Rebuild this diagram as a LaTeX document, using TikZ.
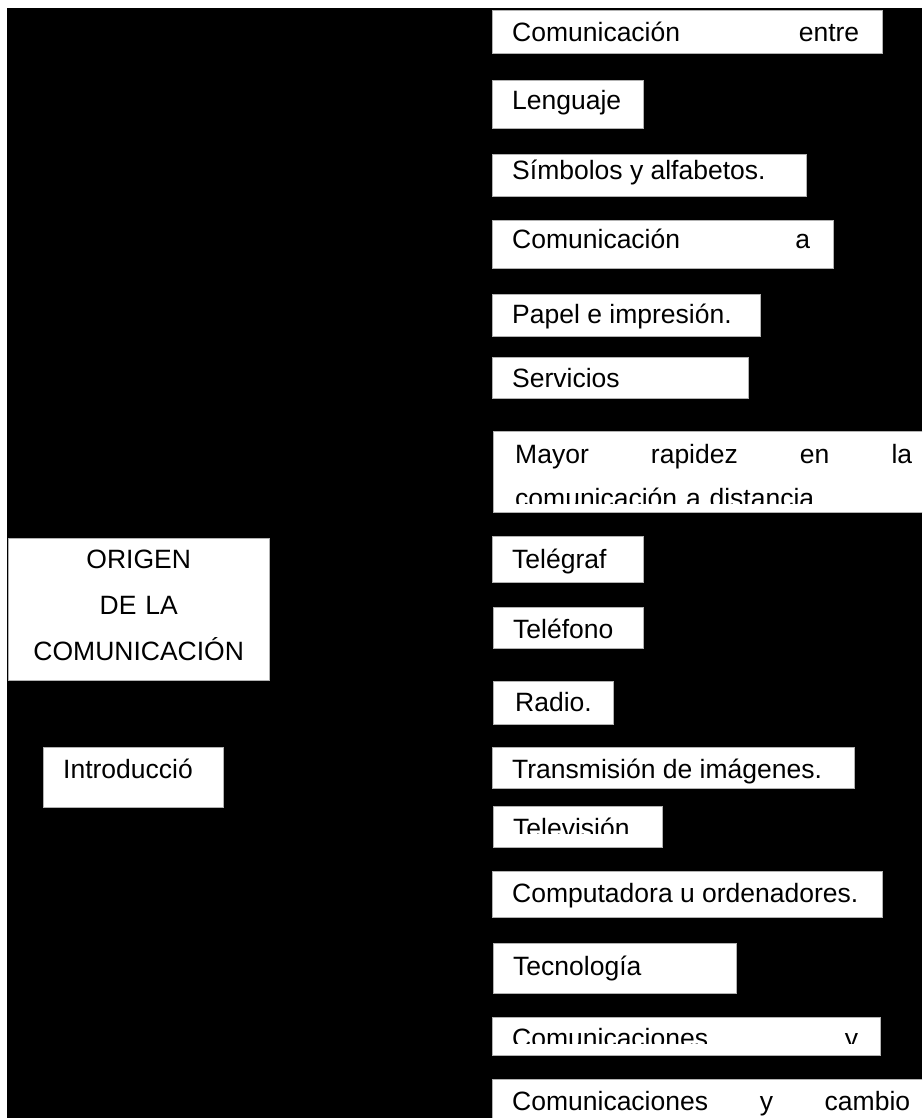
\documentclass[tikz,border=0pt]{standalone}
\usepackage{fontspec}
\setmainfont{Liberation Sans}

\begin{document}
\begin{tikzpicture}[x=1pt, y=-1pt,
    caja/.style={draw=gray!60, line width=1pt, fill=white, inner sep=0pt, anchor=north west},
    texto/.style={anchor=base west, inner sep=0pt, font=\fontsize{26.5}{44}\selectfont}]
    \clip (0,0) rectangle (922,1118);
    \fill[white] (0,0) rectangle (922,1118);
    \fill[black] (7,8) rectangle (922,1118);

    % columna derecha
    \node[caja, minimum width=390pt, minimum height=43pt] (entre) at (492,10) {};
    \node[texto, text width=347pt] (tentre) at (512,42) {Comunicación\hfill entre};
    \node[caja, minimum width=151pt, minimum height=48pt] (lenguaje) at (492,80) {};
    \node[texto] (tlenguaje) at (512,110) {Lenguaje};
    \node[caja, minimum width=314pt, minimum height=42pt] (simbolos) at (492,154) {};
    \node[texto] (tsimbolos) at (512,179) {Símbolos y alfabetos.};
    \node[caja, minimum width=341pt, minimum height=48pt] (distancia) at (492,220) {};
    \node[texto, text width=298pt] (tdistancia) at (512,248) {Comunicación\hfill a};
    \node[caja, minimum width=268pt, minimum height=42pt] (papel) at (492,294) {};
    \node[texto] (tpapel) at (512,323) {Papel e impresión.};
    \node[caja, minimum width=256pt, minimum height=41pt] (servicios) at (492,357) {};
    \node[texto] (tservicios) at (512,387) {Servicios};
    \node[caja, minimum width=440pt, minimum height=81pt] (rapidez) at (493,431) {};
    \begin{scope}
      \clip (493,431) rectangle (933,503);
      \node[texto, text width=397pt] (trapidez) at (515,463)
        {Mayor\hfill rapidez\hfill en\hfill la\\comunicación a distancia};
    \end{scope}
    \node[caja, minimum width=151pt, minimum height=46pt] (telegraf) at (492,536) {};
    \node[texto] (ttelegraf) at (512,568) {Telégraf};
    \node[caja, minimum width=150pt, minimum height=41pt] (telefono) at (493,607) {};
    \node[texto] (ttelefono) at (513,638) {Teléfono};
    \node[caja, minimum width=120pt, minimum height=43pt] (radio) at (493,681) {};
    \node[texto] (tradio) at (515,711) {Radio.};
    \node[caja, minimum width=362pt, minimum height=41pt] (imagenes) at (492,747) {};
    \node[texto] (timagenes) at (512,778) {Transmisión de imágenes.};
    \node[caja, minimum width=169pt, minimum height=41pt] (television) at (493,806) {};
    \begin{scope}
      \clip (493,806) rectangle (662,833);
      \node[texto] (ttelevision) at (513,837) {Televisión};
    \end{scope}
    \node[caja, minimum width=390pt, minimum height=46pt] (computadora) at (492,871) {};
    \node[texto] (tcomputadora) at (512,902) {Computadora u ordenadores.};
    \node[caja, minimum width=243pt, minimum height=50pt] (tecnologia) at (493,943) {};
    \node[texto] (ttecnologia) at (513,975) {Tecnología};
    \node[caja, minimum width=388pt, minimum height=38pt] (comunicaciones) at (492,1017) {};
    \begin{scope}
      \clip (492,1017) rectangle (880,1043);
      \node[texto, text width=346pt] (tcomunicaciones) at (512,1047) {Comunicaciones\hfill y};
    \end{scope}
    \node[caja, minimum width=440pt, minimum height=60pt] (cambio) at (492,1079) {};
    \node[texto, text width=398pt] (tcambio) at (512,1110) {Comunicaciones\hfill y\hfill cambio};

    % columna izquierda
    \node[caja, minimum width=261pt, minimum height=142pt] (origen) at (8,538) {};
    \node[texto, text width=261pt, align=center, font=\fontsize{26.5}{46}\selectfont] (torigen) at (8,568)
      {ORIGEN\\DE LA\\COMUNICACIÓN};
    \node[caja, minimum width=180pt, minimum height=60pt] (intro) at (43,747) {};
    \node[texto] (tintro) at (63,778) {Introducció};
\end{tikzpicture}
\end{document}
